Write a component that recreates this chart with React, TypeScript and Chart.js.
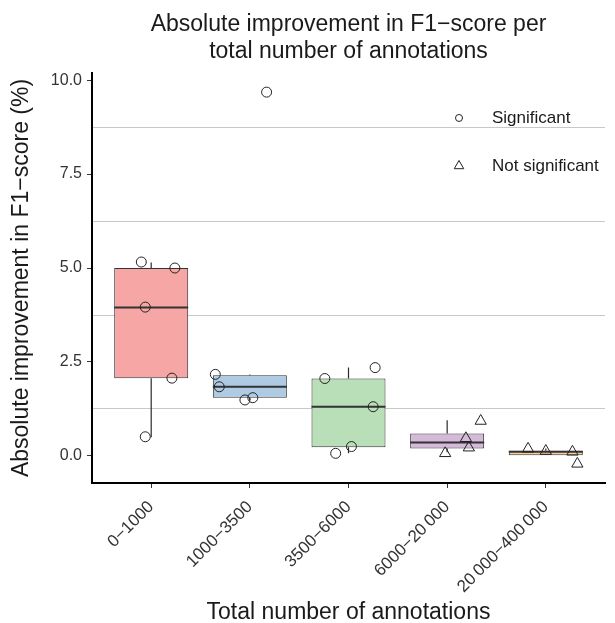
import React, { useEffect, useRef } from 'react';
import { Chart, registerables } from 'chart.js';
import { drawPoint } from 'chart.js/helpers';

Chart.register(...registerables);

// ---------- data ----------
const categories = ['0\u22121000', '1000\u22123500', '3500\u22126000', '6000\u221220\u2009000', '20\u2009000\u2212400\u2009000'];

// box statistics per category (lower whisker, Q1, median, Q3, upper whisker)
const boxLow = [0.5, 1.49, 0.07, 0.1, 0.02];
const boxQ1 = [2.07, 1.55, 0.23, 0.2, 0.02];
const boxMedian = [3.95, 1.84, 1.31, 0.36, 0.11];
const boxQ3 = [5.0, 2.15, 2.06, 0.6, 0.14];
const boxHigh = [5.15, 2.17, 2.35, 0.95, 0.2];
const boxColors = ['#F6A6A5', '#AFCBE3', '#B8DFB7', '#D6B8DA', '#FFCC99'];

// significant results (circles)
const sigCategory = [0, 0, 0, 0, 0, 1, 1, 1, 1, 1, 2, 2, 2, 2, 2];
const sigJitter = [-0.1, 0.24, -0.06, 0.21, -0.06, -0.35, -0.31, -0.05, 0.03, 0.17, -0.24, 0.27, 0.25, 0.03, -0.13];
const sigValues = [5.16, 5.0, 3.96, 2.07, 0.51, 2.17, 1.84, 1.49, 1.55, 9.68, 2.06, 2.35, 1.31, 0.25, 0.07];

// not significant results (triangles)
const nsCategory = [3, 3, 3, 3, 4, 4, 4, 4];
const nsJitter = [0.34, 0.19, 0.22, -0.02, -0.18, 0.0, 0.27, 0.32];
const nsValues = [0.93, 0.47, 0.22, 0.07, 0.19, 0.13, 0.11, -0.21];

const legendLabels = ['Significant', 'Not significant'];
const yMajorTicks = [0, 2.5, 5, 7.5, 10];
const yGridTicks = [1.25, 3.75, 6.25, 8.75];

const FONT = '"Liberation Sans", Arial, Helvetica, sans-serif';
const INK = '#222222';

const insideLegend = {
  id: 'insideLegend',
  afterDraw(chart: any) {
    const { ctx, chartArea } = chart;
    const styles = [
      { pointStyle: 'circle', radius: 3.5 },
      { pointStyle: 'triangle', radius: 5.5 },
    ];
    const mx = chartArea.right - 146;
    const tx = chartArea.right - 113;
    const ys = [chartArea.top + 45, chartArea.top + 93];
    ctx.save();
    legendLabels.forEach((label, i) => {
      ctx.strokeStyle = INK;
      ctx.fillStyle = 'rgba(0,0,0,0)';
      ctx.lineWidth = 1;
      drawPoint(ctx, { pointStyle: styles[i].pointStyle, radius: styles[i].radius, borderWidth: 1, rotation: 0 } as any, mx, ys[i]);
      ctx.fillStyle = '#1a1a1a';
      ctx.font = `17px ${FONT}`;
      ctx.textAlign = 'left';
      ctx.textBaseline = 'middle';
      ctx.fillText(label, tx, ys[i]);
    });
    ctx.restore();
  },
};

export default function App() {
  const ref = useRef<HTMLCanvasElement>(null);

  useEffect(() => {
    if (!ref.current) return;

    const boxData = categories.map((_, i) => ({ x: i, y: [boxQ1[i], boxQ3[i]] }));
    const whiskerData: any[] = [];
    const medianData: any[] = [];
    categories.forEach((_, i) => {
      whiskerData.push({ x: i, y: boxLow[i] }, { x: i, y: boxQ1[i] }, { x: i, y: null });
      whiskerData.push({ x: i, y: boxQ3[i] }, { x: i, y: boxHigh[i] }, { x: i, y: null });
      medianData.push({ x: i - 0.375, y: boxMedian[i] }, { x: i + 0.375, y: boxMedian[i] }, { x: i + 0.375, y: null });
    });
    const sigData = sigValues.map((v, k) => ({ x: sigCategory[k] + sigJitter[k], y: v }));
    const nsData = nsValues.map((v, k) => ({ x: nsCategory[k] + nsJitter[k], y: v }));

    const chart = new Chart(ref.current, {
      type: 'bar',
      data: {
        datasets: [
          {
            type: 'bar',
            label: 'box',
            data: boxData as any,
            backgroundColor: boxColors,
            borderColor: '#333333',
            borderWidth: 1,
            borderSkipped: false,
            categoryPercentage: 1,
            barPercentage: 0.75,
            order: 3,
          } as any,
          {
            type: 'line',
            label: 'whiskers',
            data: whiskerData,
            borderColor: '#2a2a2a',
            borderWidth: 1.2,
            pointRadius: 0,
            fill: false,
            spanGaps: false,
            order: 2,
          } as any,
          {
            type: 'line',
            label: 'median',
            data: medianData,
            borderColor: '#333333',
            borderWidth: 2,
            pointRadius: 0,
            fill: false,
            spanGaps: false,
            order: 1,
          } as any,
          {
            type: 'scatter',
            label: legendLabels[0],
            data: sigData,
            pointStyle: 'circle',
            pointRadius: 5,
            pointBorderWidth: 1,
            pointBorderColor: INK,
            pointBackgroundColor: 'rgba(0,0,0,0)',
            order: 0,
          } as any,
          {
            type: 'scatter',
            label: legendLabels[1],
            data: nsData,
            pointStyle: 'triangle',
            pointRadius: 6.5,
            pointBorderWidth: 1,
            pointBorderColor: INK,
            pointBackgroundColor: 'rgba(0,0,0,0)',
            order: 0,
          } as any,
        ],
      },
      options: {
        responsive: false,
        animation: false,
        devicePixelRatio: 1,
        events: [],
        layout: { padding: { left: 0, right: 10, top: 0, bottom: 0 } },
        plugins: {
          legend: { display: false },
          tooltip: { enabled: false },
          title: {
            display: true,
            fullSize: false,
            text: ['Absolute improvement in F1\u2212score per', 'total number of annotations'],
            color: '#1a1a1a',
            font: { family: FONT, size: 23, weight: 'normal', lineHeight: 1.16 },
            padding: { top: 11.7, bottom: 7.9 },
          },
        },
        scales: {
          x: {
            type: 'linear',
            min: -0.6,
            max: 4.6,
            offset: false,
            afterBuildTicks: (scale: any) => {
              scale.ticks = categories.map((_, i) => ({ value: i }));
            },
            afterFit: (scale: any) => {
              scale.height = 140;
            },
            ticks: {
              autoSkip: false,
              minRotation: 45,
              maxRotation: 45,
              padding: 9,
              color: '#333333',
              font: { family: FONT, size: 17 },
              callback: (v: any) => categories[Math.round(Number(v))] ?? '',
            },
            grid: {
              offset: false,
              drawOnChartArea: false,
              drawTicks: true,
              tickLength: 5,
              tickColor: '#333333',
              tickWidth: 1,
            },
            border: { display: true, color: '#000000', width: 2 },
            title: {
              display: true,
              text: 'Total number of annotations',
              color: '#1a1a1a',
              font: { family: FONT, size: 23, lineHeight: 0.87 },
              padding: { top: 0, bottom: 0 },
            },
          },
          y: {
            type: 'linear',
            min: -0.72,
            max: 10.19,
            afterBuildTicks: (scale: any) => {
              scale.ticks = [...yMajorTicks, ...yGridTicks].sort((a, b) => a - b).map((v) => ({ value: v }));
            },
            afterFit: (scale: any) => {
              scale.width = 92;
            },
            ticks: {
              autoSkip: false,
              padding: 5,
              color: '#333333',
              font: { family: FONT, size: 16 },
              callback: (v: any) => (yMajorTicks.includes(Number(v)) ? Number(v).toFixed(1) : ''),
            },
            grid: {
              drawTicks: true,
              tickLength: 5,
              lineWidth: 1,
              color: (c: any) => (c.tick && yGridTicks.includes(c.tick.value) ? '#c8c8c8' : 'rgba(0,0,0,0)'),
              tickColor: (c: any) => (c.tick && yMajorTicks.includes(c.tick.value) ? '#333333' : 'rgba(0,0,0,0)'),
            },
            border: { display: true, color: '#000000', width: 2 },
            title: {
              display: true,
              text: 'Absolute improvement in F1\u2212score (%)',
              color: '#1a1a1a',
              font: { family: FONT, size: 23, lineHeight: 1.2 },
              padding: { top: 8, bottom: 0 },
            },
          },
        },
      } as any,
      plugins: [insideLegend],
    });

    return () => chart.destroy();
  }, []);

  return (
    <div style={{ position: 'absolute', left: 0, top: 0, width: 615, height: 623, background: '#ffffff' }}>
      <canvas ref={ref} width={615} height={623} style={{ display: 'block', width: 615, height: 623 }} />
    </div>
  );
}
